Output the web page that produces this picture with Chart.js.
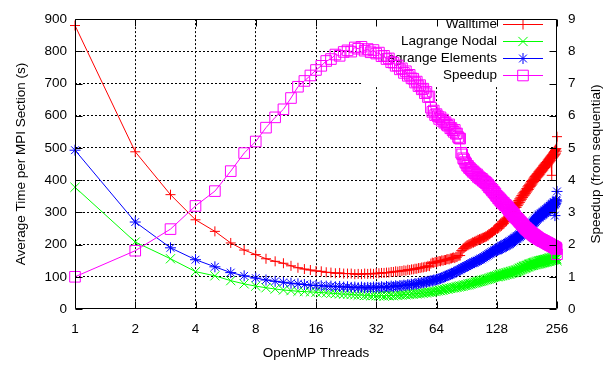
<!DOCTYPE html>
<html><head><meta charset="utf-8">
<script src="https://cdn.jsdelivr.net/npm/chart.js@4.4.1/dist/chart.umd.min.js"></script>
<style>html,body{margin:0;padding:0;background:#fff;}canvas{display:block;}</style>
</head><body>
<canvas id="c" width="613" height="365"></canvas>
<script>
const threads = [
  1,2,3,4,5,6,7,8,9,10,11,12,13,14,15,16,
  17,18,19,20,21,22,23,24,25,26,27,28,29,30,31,32,
  33,34,35,36,37,38,39,40,41,42,43,44,45,46,47,48,
  49,50,51,52,53,54,55,56,57,58,59,60,61,62,63,64,
  65,66,67,68,69,70,71,72,73,74,75,76,77,78,79,80,
  81,82,83,84,85,86,87,88,89,90,91,92,93,94,95,96,
  97,98,99,100,101,102,103,104,105,106,107,108,109,110,111,112,
  113,114,115,116,117,118,119,120,121,122,123,124,125,126,127,128,
  129,130,131,132,133,134,135,136,137,138,139,140,141,142,143,144,
  145,146,147,148,149,150,151,152,153,154,155,156,157,158,159,160,
  161,162,163,164,165,166,167,168,169,170,171,172,173,174,175,176,
  177,178,179,180,181,182,183,184,185,186,187,188,189,190,191,192,
  193,194,195,196,197,198,199,200,201,202,203,204,205,206,207,208,
  209,210,211,212,213,214,215,216,217,218,219,220,221,222,223,224,
  225,226,227,228,229,230,231,232,233,234,235,236,237,238,239,240,
  241,242,243,244,245,246,247,248,249,250,251,252,253,254,255,256
];
const walltime = [
  880,488,355,277,241,205,183,169,156,148,142,134,128,124,121,118,
  117,114,113,111,112,110,110,110,108,109,108,110,109,110,109,111,
  111,112,112,113,113,115,115,117,116,118,118,120,119,122,121,123,
  123,125,125,127,127,129,129,131,131,134,133,141,144,143,146,145,
  147,149,148,151,150,152,152,154,155,154,157,157,159,160,158,162,
  161,165,166,166,181,183,188,190,193,195,198,198,201,201,203,204,
  207,206,209,209,212,211,215,214,217,216,219,218,221,221,223,223,
  226,225,229,228,233,232,235,236,239,238,242,242,246,245,250,251,
  249,258,251,262,255,266,258,270,262,273,265,276,270,279,273,282,
  280,292,285,298,290,304,295,309,300,314,305,319,311,324,315,327,
  316,331,321,337,326,342,331,347,336,352,341,357,346,361,351,365,
  354,369,358,374,363,379,367,383,371,387,376,391,380,396,384,399,
  388,403,392,407,396,411,400,414,403,418,407,421,410,425,413,428,
  416,431,419,434,423,437,426,440,429,444,432,447,436,450,439,453,
  441,455,444,458,447,462,450,465,453,468,456,471,459,474,462,477,
  415,479,468,482,471,486,474,489,477,492,480,495,484,498,490,535
];
const lagrangeNodal = [
  378,208,156,116,103,88,78,71,66,62,59,57,55,54,53,52,
  51,50,49,48,47,46,46,45,44,43,44,42,43,41,42,41,
  41,42,40,42,41,43,41,43,42,44,43,45,44,46,45,47,
  46,48,47,49,48,50,49,51,50,52,52,53,53,55,54,56,
  56,58,57,59,59,61,61,63,62,64,64,66,65,67,66,68,
  68,70,69,71,70,72,72,74,73,75,75,77,76,78,78,80,
  79,81,81,83,82,84,84,86,85,87,87,89,88,90,90,92,
  91,93,92,94,94,96,95,97,97,99,98,100,100,102,101,103,
  100,106,101,107,102,108,103,109,104,110,105,111,106,112,107,113,
  108,114,109,115,110,116,111,117,112,118,113,119,114,120,115,121,
  116,122,117,124,119,126,120,127,122,129,123,130,125,132,126,133,
  127,134,128,135,129,136,131,138,132,139,133,140,134,141,135,142,
  136,143,136,144,137,145,138,146,138,146,139,147,140,148,140,149,
  141,149,142,150,142,151,143,151,144,152,144,153,145,153,146,154,
  146,154,147,155,147,156,148,156,149,157,149,158,150,158,151,159,
  151,159,152,160,152,161,153,161,154,162,154,163,155,163,156,150
];
const lagrangeElements = [
  493,270,190,153,131,113,103,96,90,86,83,80,78,76,74,73,
  72,71,71,69,70,68,69,67,68,66,68,66,67,66,68,67,
  67,69,67,70,68,71,69,72,70,73,72,74,73,76,74,77,
  76,79,77,80,80,82,81,84,83,86,86,88,87,90,89,92,
  92,94,95,97,98,100,101,104,104,107,107,110,110,113,114,116,
  117,120,120,123,124,127,128,130,130,133,133,136,137,140,139,142,
  142,145,144,148,147,150,149,153,152,156,154,158,157,161,160,164,
  163,167,166,170,169,173,172,176,175,179,177,182,180,184,182,186,
  182,190,184,192,186,195,188,197,190,199,192,201,194,203,196,205,
  198,207,200,210,202,212,205,215,207,217,210,220,212,222,215,225,
  217,227,219,230,222,232,224,235,227,237,229,240,232,242,234,245,
  237,248,240,251,243,254,246,257,249,260,252,263,255,266,258,269,
  261,272,264,275,267,278,270,281,273,284,276,287,279,290,282,293,
  284,294,286,296,288,298,290,300,292,302,294,304,296,306,298,308,
  300,310,302,312,304,314,306,316,308,318,310,320,312,322,314,324,
  316,326,318,328,320,330,322,332,324,290,326,336,329,339,335,365
];
const speedup = [
  1.00,1.81,2.48,3.20,3.66,4.28,4.84,5.20,5.63,5.95,6.20,6.55,6.90,7.08,7.25,7.42,
  7.55,7.70,7.76,7.90,7.86,7.98,8.03,7.99,8.12,8.08,8.14,8.02,8.07,7.97,8.04,7.93,
  7.96,7.85,7.86,7.76,7.78,7.66,7.65,7.55,7.56,7.44,7.47,7.33,7.38,7.24,7.27,7.16,
  7.15,7.03,7.06,6.92,6.95,6.82,6.84,6.70,6.74,6.58,6.60,6.25,6.12,6.16,6.02,6.05,
  5.98,5.90,5.95,5.84,5.88,5.78,5.80,5.72,5.69,5.73,5.61,5.62,5.55,5.50,5.56,5.44,
  5.45,5.34,5.30,5.29,4.85,4.80,4.68,4.64,4.56,4.52,4.45,4.44,4.38,4.37,4.33,4.31,
  4.26,4.27,4.22,4.21,4.16,4.18,4.10,4.12,4.06,4.07,4.02,4.04,3.98,3.99,3.94,3.95,
  3.90,3.91,3.84,3.86,3.78,3.80,3.74,3.73,3.68,3.70,3.63,3.64,3.58,3.59,3.52,3.51,
  3.49,3.44,3.46,3.39,3.41,3.35,3.37,3.30,3.32,3.27,3.29,3.24,3.22,3.23,3.18,3.19,
  3.13,3.15,3.08,3.10,3.04,3.06,3.00,3.02,2.95,2.98,2.91,2.94,2.88,2.89,2.84,2.83,
  2.82,2.79,2.80,2.75,2.76,2.71,2.72,2.68,2.69,2.64,2.65,2.61,2.62,2.57,2.58,2.53,
  2.54,2.50,2.52,2.47,2.49,2.45,2.46,2.42,2.44,2.39,2.41,2.37,2.38,2.35,2.36,2.33,
  2.33,2.30,2.32,2.28,2.30,2.26,2.28,2.24,2.26,2.22,2.24,2.21,2.22,2.19,2.20,2.18,
  2.17,2.18,2.15,2.16,2.14,2.15,2.12,2.14,2.11,2.12,2.10,2.11,2.09,2.10,2.07,2.08,
  2.06,2.07,2.05,2.06,2.03,2.05,2.02,2.03,2.01,2.02,1.99,2.01,1.98,1.99,1.97,1.98,
  1.96,1.97,1.95,1.96,1.93,1.95,1.92,1.93,1.91,1.92,1.89,1.91,1.88,1.89,1.86,1.70
];
const xTickValues = [1, 2, 4, 8, 16, 32, 64, 128, 256];
const seriesLabels = ['Walltime', 'Lagrange Nodal', 'Lagrange Elements', 'Speedup'];
const xTitle = 'OpenMP Threads';
const yTitle = 'Average Time per MPI Section (s)';
const y2Title = 'Speedup (from sequential)';

const FONT = '"Liberation Sans", Arial, Helvetica, sans-serif';
const FS = 13.5;

function pts(arr) { return threads.map((t, i) => ({ x: t, y: arr[i] })); }

function drawMarker(ctx, style, x, y, r) {
  ctx.beginPath();
  if (style === 'cross' || style === 'star') {
    ctx.moveTo(x - r, y); ctx.lineTo(x + r, y);
    ctx.moveTo(x, y - r); ctx.lineTo(x, y + r);
  }
  if (style === 'crossRot' || style === 'star') {
    const d = r * Math.SQRT1_2;
    ctx.moveTo(x - d, y - d); ctx.lineTo(x + d, y + d);
    ctx.moveTo(x + d, y - d); ctx.lineTo(x - d, y + d);
  }
  if (style === 'rect') {
    const d = r * Math.SQRT1_2;
    ctx.rect(x - d, y - d, 2 * d, 2 * d);
  }
  ctx.stroke();
}

const gnuplotPlugin = {
  id: 'gnuplotStyle',
  beforeDatasetsDraw(chart) {
    const { ctx, chartArea: a } = chart;
    ctx.save();
    // key background (hides the grid under the key)
    ctx.fillStyle = '#fff';
    ctx.fillRect(363, a.top + 0.5, a.right - 363, 86 - a.top);
    ctx.font = FS + 'px ' + FONT;
    ctx.textAlign = 'right';
    ctx.textBaseline = 'middle';
    chart.data.datasets.forEach((ds, i) => {
      const y = 24 + i * 17;
      ctx.fillStyle = '#000';
      ctx.fillText(ds.label, 497, y);
      ctx.strokeStyle = ds.borderColor;
      ctx.lineWidth = 1;
      ctx.beginPath(); ctx.moveTo(503, y + 0.5); ctx.lineTo(543, y + 0.5); ctx.stroke();
      drawMarker(ctx, ds.pointStyle, 523, y + 0.5, ds.pointRadius);
    });
    ctx.restore();
  },
  afterDraw(chart) {
    const { ctx, chartArea: a, scales } = chart;
    ctx.save();
    ctx.strokeStyle = '#000';
    ctx.lineWidth = 1;
    const L = Math.round(a.left) + 0.5, R = Math.round(a.right) - 0.5;
    const T = Math.round(a.top) + 0.5, B = Math.round(a.bottom) - 0.5;
    ctx.beginPath();
    ctx.rect(L, T, R - L, B - T);
    const tl = 7;
    xTickValues.forEach(v => {
      const px = Math.round(scales.x.getPixelForValue(v)) + 0.5;
      ctx.moveTo(px, B); ctx.lineTo(px, B - tl);
      ctx.moveTo(px, T); ctx.lineTo(px, T + tl);
    });
    scales.y.ticks.forEach(t => {
      const py = Math.round(scales.y.getPixelForValue(t.value)) + 0.5;
      ctx.moveTo(L, py); ctx.lineTo(L + tl, py);
    });
    scales.y2.ticks.forEach(t => {
      const py = Math.round(scales.y2.getPixelForValue(t.value)) + 0.5;
      ctx.moveTo(R, py); ctx.lineTo(R - tl, py);
    });
    ctx.stroke();
    // right axis title, reading bottom to top like the left one
    ctx.translate(596, (a.top + a.bottom) / 2);
    ctx.rotate(-Math.PI / 2);
    ctx.font = FS + 'px ' + FONT;
    ctx.fillStyle = '#000';
    ctx.textAlign = 'center';
    ctx.textBaseline = 'middle';
    ctx.fillText(y2Title, 0, 0);
    ctx.restore();
  }
};

const styles = [
  { color: '#ff0000', point: 'cross', r: 5, axis: 'y', order: 4, data: walltime },
  { color: '#00ff00', point: 'crossRot', r: 6.5, axis: 'y', order: 3, data: lagrangeNodal },
  { color: '#0000ff', point: 'star', r: 5.5, axis: 'y', order: 2, data: lagrangeElements },
  { color: '#ff00ff', point: 'rect', r: 7.5, axis: 'y2', order: 1, data: speedup }
];

const datasets = styles.map((s, i) => ({
  label: seriesLabels[i],
  data: pts(s.data),
  yAxisID: s.axis,
  order: s.order,
  borderColor: s.color,
  backgroundColor: s.color,
  borderWidth: 1,
  pointStyle: s.point,
  pointRadius: s.r,
  pointHoverRadius: s.r,
  pointBorderWidth: 1,
  pointBorderColor: s.color,
  pointBackgroundColor: 'rgba(0,0,0,0)',
  fill: false,
  tension: 0,
  clip: false
}));

const tickFont = { family: FONT, size: FS };
const dotted = [2, 2];

new Chart(document.getElementById('c'), {
  type: 'line',
  data: { datasets },
  plugins: [gnuplotPlugin],
  options: {
    responsive: false,
    animation: false,
    events: [],
    layout: { padding: { top: 9, left: 0, right: 0, bottom: 0 } },
    plugins: { legend: { display: false }, tooltip: { enabled: false } },
    scales: {
      x: {
        type: 'logarithmic',
        min: 1, max: 256,
        afterBuildTicks: (s) => { s.ticks = xTickValues.map(v => ({ value: v })); },
        afterFit: (s) => { s.height = 56; },
        ticks: { autoSkip: false, maxRotation: 0, minRotation: 0, padding: 12, color: '#000', font: tickFont, callback: (v) => String(v) },
        grid: { drawTicks: false, lineWidth: 1, color: (c) => (c.index === 0 || c.index === xTickValues.length - 1) ? 'rgba(0,0,0,0)' : '#000' },
        border: { display: false, dash: dotted },
        title: { display: true, text: xTitle, color: '#000', font: tickFont, padding: { top: 0, bottom: 4 } }
      },
      y: {
        position: 'left',
        min: 0, max: 900,
        afterFit: (s) => { s.width = 75; },
        ticks: { stepSize: 100, padding: 8, color: '#000', font: tickFont },
        grid: { drawTicks: false, lineWidth: 1, color: (c) => (c.index === 0 || c.index === 9) ? 'rgba(0,0,0,0)' : '#000' },
        border: { display: false, dash: dotted },
        title: { display: true, text: yTitle, color: '#000', font: tickFont, padding: { top: 13, bottom: 0 } }
      },
      y2: {
        position: 'right',
        min: 0, max: 9,
        afterFit: (s) => { s.width = 56; },
        ticks: { stepSize: 1, padding: 11, color: '#000', font: tickFont },
        grid: { drawOnChartArea: false, drawTicks: false },
        border: { display: false },
        title: { display: false }
      }
    }
  }
});
</script>
</body></html>
